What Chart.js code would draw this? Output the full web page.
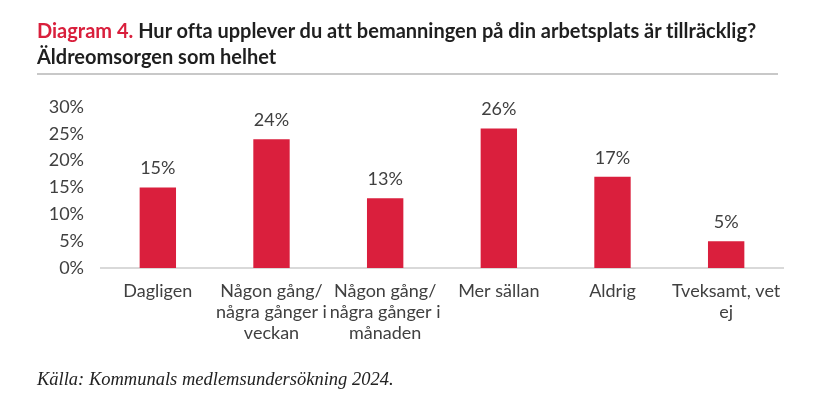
<!DOCTYPE html>
<html>
<head>
<meta charset="utf-8">
<script src="https://cdn.jsdelivr.net/npm/chart.js@4"></script>
<style>
  html, body { margin: 0; padding: 0; background: #fff; }
  #wrap { position: relative; width: 839px; height: 418px; overflow: hidden; }
  #title { position: absolute; left: 37px; top: 17px; width: 780px; font-family: Lato, sans-serif; font-weight: bold; font-size: 20px; line-height: 26px; color: #1f1f1f; font-variant-ligatures: none; }
  #title .red { color: #d91f3c; }
  #rule { position: absolute; left: 37px; top: 73px; width: 741px; height: 2px; background: #c8c8c8; }
  #source { position: absolute; left: 37px; top: 369px; font-family: "Liberation Serif", serif; font-style: italic; font-size: 18.5px; color: #222; }
  canvas { position: absolute; left: 0; top: 0; }
</style>
</head>
<body>
<div id="wrap">
  <canvas id="chart" width="839" height="418"></canvas>
  <div id="title"><span class="red">Diagram 4.</span> Hur ofta upplever du att bemanningen på din arbetsplats är tillräcklig?<br>Äldreomsorgen som helhet</div>
  <div id="rule"></div>
  <div id="source">Källa: Kommunals medlemsundersökning 2024.</div>
</div>
<script>
const categories = [
  ['Dagligen'],
  ['Någon gång/', 'några gånger i', 'veckan'],
  ['Någon gång/', 'några gånger i', 'månaden'],
  ['Mer sällan'],
  ['Aldrig'],
  ['Tveksamt, vet', 'ej']
];
const values = [15, 24, 13, 26, 17, 5];
const yTicks = [0, 5, 10, 15, 20, 25, 30];

const barRed = '#da1f3d';
const textGrey = '#404040';

// labels above each bar
const valueLabels = {
  id: 'valueLabels',
  afterDatasetsDraw(chart) {
    const ctx = chart.ctx;
    const meta = chart.getDatasetMeta(0);
    ctx.save();
    ctx.font = '18px Lato';
    ctx.fillStyle = textGrey;
    ctx.textAlign = 'center';
    ctx.textBaseline = 'middle';
    meta.data.forEach((bar, i) => {
      ctx.fillText(values[i] + '%', bar.x, bar.y - 19);
    });
    ctx.restore();
  }
};

new Chart(document.getElementById('chart'), {
  type: 'bar',
  data: {
    labels: categories,
    datasets: [{
      data: values,
      backgroundColor: barRed,
      borderWidth: 0,
      barPercentage: 0.64,
      categoryPercentage: 0.5
    }]
  },
  options: {
    responsive: false,
    animation: false,
    layout: { padding: { top: 107, right: 56, bottom: 0, left: 0 } },
    plugins: { legend: { display: false }, tooltip: { enabled: false } },
    scales: {
      x: {
        grid: { display: false, drawTicks: false },
        border: { color: '#d9d9d9', width: 2 },
        ticks: { color: textGrey, font: { family: 'Lato', size: 18, lineHeight: 1.17 }, padding: 13, maxRotation: 0, autoSkip: false },
        afterFit(scale) { scale.height = 150; }
      },
      y: {
        min: 0,
        max: 30,
        grid: { display: false, drawTicks: false },
        border: { display: false },
        afterBuildTicks(scale) { scale.ticks = yTicks.map(v => ({ value: v })); },
        ticks: {
          color: textGrey,
          font: { family: 'Lato', size: 18 },
          padding: 17,
          callback: v => v + '%'
        },
        afterFit(scale) { scale.width = 101; }
      }
    }
  },
  plugins: [valueLabels]
});
</script>
</body>
</html>
